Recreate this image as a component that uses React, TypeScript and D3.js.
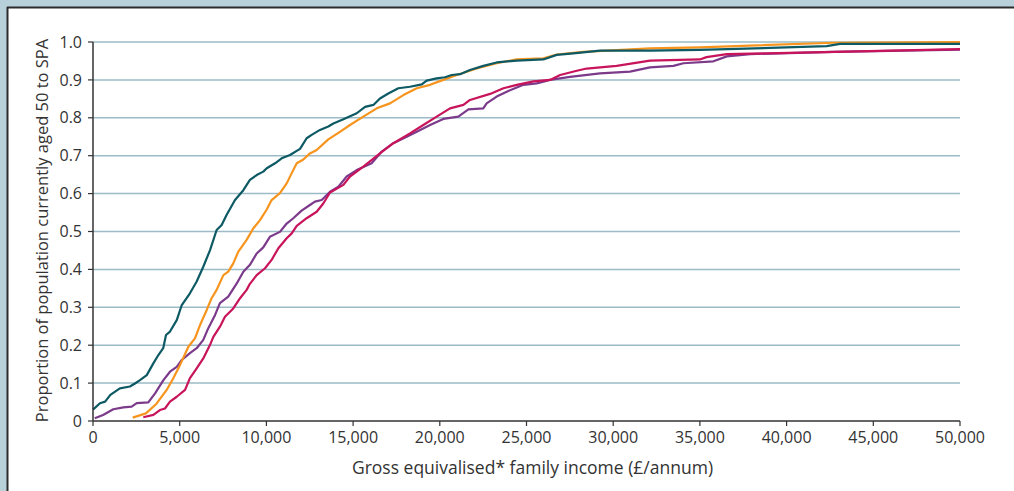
import React from "react";
import * as d3 from "d3";

// x: gross equivalised family income (£/annum), y: cumulative proportion
const xTicks = [0, 5000, 10000, 15000, 20000, 25000, 30000, 35000, 40000, 45000, 50000];
const yTicks = [0, 0.1, 0.2, 0.3, 0.4, 0.5, 0.6, 0.7, 0.8, 0.9, 1.0];

const tealSeries: [number, number][] = [
  [0, 0.030], [400, 0.047], [700, 0.051], [1000, 0.069], [1550, 0.086], [2130, 0.091],
  [2420, 0.099], [2710, 0.108], [3100, 0.121], [3480, 0.152], [3770, 0.174], [4050, 0.192],
  [4210, 0.227], [4440, 0.236], [4830, 0.266], [5120, 0.306], [5590, 0.337], [5980, 0.368],
  [6360, 0.407], [6750, 0.451], [7130, 0.504], [7420, 0.517], [7710, 0.544], [8190, 0.583],
  [8670, 0.609], [9050, 0.636], [9440, 0.649], [9820, 0.658], [10020, 0.667], [10500, 0.680],
  [10880, 0.693], [11360, 0.702], [11940, 0.718], [12320, 0.746], [12610, 0.755], [13090, 0.768],
  [13570, 0.777], [13860, 0.785], [14440, 0.796], [15210, 0.812], [15690, 0.829], [16170, 0.834],
  [16550, 0.851], [17030, 0.864], [17610, 0.878], [18280, 0.882], [18960, 0.888], [19240, 0.898],
  [19820, 0.904], [20300, 0.907], [20690, 0.913], [21170, 0.915], [21740, 0.926], [22510, 0.937],
  [23280, 0.946], [24440, 0.951], [25970, 0.954], [26740, 0.966], [27700, 0.970], [29240, 0.977],
  [32120, 0.977], [35000, 0.979], [42310, 0.989], [43080, 0.995], [50000, 0.995],
];

const orangeSeries: [number, number][] = [
  [2290, 0.009], [3050, 0.020], [3650, 0.045], [4250, 0.082], [4630, 0.113], [5020, 0.148],
  [5500, 0.196], [5880, 0.218], [6170, 0.253], [6560, 0.293], [6840, 0.324], [7130, 0.346],
  [7520, 0.385], [7800, 0.394], [8090, 0.416], [8380, 0.447], [8860, 0.478], [9240, 0.508],
  [9630, 0.530], [10020, 0.558], [10300, 0.583], [10780, 0.601], [11170, 0.627], [11460, 0.654],
  [11750, 0.680], [12130, 0.690], [12510, 0.706], [12900, 0.715], [13570, 0.743], [14240, 0.763],
  [14820, 0.781], [15590, 0.803], [16360, 0.825], [17130, 0.838], [17900, 0.860], [18670, 0.878],
  [19440, 0.887], [20200, 0.900], [20980, 0.913], [22130, 0.930], [23280, 0.944], [24440, 0.954],
  [25970, 0.957], [26740, 0.967], [28280, 0.974], [32120, 0.983], [35000, 0.986], [42700, 0.998],
  [50000, 1.0],
];

const purpleSeries: [number, number][] = [
  [100, 0.007], [580, 0.016], [1170, 0.031], [1750, 0.036], [2230, 0.038], [2520, 0.047],
  [3190, 0.049], [3580, 0.073], [4060, 0.108], [4440, 0.130], [4830, 0.143], [5120, 0.161],
  [5590, 0.179], [5980, 0.192], [6360, 0.214], [6650, 0.245], [7040, 0.280], [7320, 0.311],
  [7800, 0.328], [8290, 0.363], [8670, 0.394], [9050, 0.412], [9440, 0.442], [9820, 0.458],
  [10200, 0.486], [10780, 0.499], [11170, 0.521], [11550, 0.535], [12030, 0.555], [12510, 0.570],
  [12800, 0.579], [13190, 0.583], [13670, 0.605], [14150, 0.618], [14630, 0.645], [15210, 0.662],
  [16070, 0.680], [16650, 0.711], [17320, 0.733], [18090, 0.750], [18670, 0.763], [19440, 0.781],
  [20200, 0.797], [21070, 0.803], [21650, 0.822], [22510, 0.825], [22700, 0.838], [23280, 0.856],
  [23860, 0.869], [24820, 0.887], [25590, 0.891], [26360, 0.900], [27510, 0.908], [29240, 0.917],
  [30970, 0.922], [32120, 0.933], [33470, 0.937], [34050, 0.944], [35780, 0.949], [36550, 0.962],
  [37900, 0.968], [42690, 0.974], [50000, 0.980],
];

const crimsonSeries: [number, number][] = [
  [2900, 0.010], [3480, 0.016], [3860, 0.029], [4150, 0.033], [4440, 0.051], [4830, 0.064],
  [5310, 0.082], [5590, 0.113], [5980, 0.139], [6360, 0.165], [6750, 0.201], [6940, 0.222],
  [7320, 0.249], [7610, 0.275], [8090, 0.297], [8480, 0.324], [8860, 0.346], [9050, 0.362],
  [9440, 0.385], [9920, 0.403], [10300, 0.425], [10690, 0.456], [11170, 0.482], [11460, 0.495],
  [11750, 0.515], [12320, 0.535], [12900, 0.552], [13280, 0.574], [13670, 0.603], [14440, 0.623],
  [14820, 0.645], [15590, 0.671], [16550, 0.706], [17320, 0.733], [18280, 0.759], [19050, 0.781],
  [19820, 0.803], [20590, 0.825], [21360, 0.834], [21740, 0.847], [22900, 0.863], [23670, 0.878],
  [24440, 0.887], [25400, 0.896], [26360, 0.900], [26940, 0.913], [27900, 0.924], [28470, 0.930],
  [30200, 0.937], [32120, 0.951], [35000, 0.954], [35380, 0.960], [36550, 0.968], [38860, 0.970],
  [50000, 0.981],
];

const seriesList = [
  { name: "purple", data: purpleSeries, color: "#7b3a8a" },
  { name: "crimson", data: crimsonSeries, color: "#c8145a" },
  { name: "orange", data: orangeSeries, color: "#f7941d" },
  { name: "teal", data: tealSeries, color: "#0d5a64" },
];

const yTitle = "Proportion of population currently aged 50 to SPA";
const xTitle = "Gross equivalised* family income (£/annum)";

const W = 1014;
const H = 491;
const margin = { left: 93, right: 1014 - 960, top: 42, bottom: 491 - 421 };

export default function App() {
  const x = d3.scaleLinear().domain([0, 50000]).range([margin.left, W - margin.right]);
  const y = d3.scaleLinear().domain([0, 1]).range([H - margin.bottom, margin.top]);
  const line = d3
    .line<[number, number]>()
    .x((d) => x(d[0]))
    .y((d) => y(d[1]))
    .curve(d3.curveLinear);
  const fmtX = d3.format(",");
  const fmtY = (v: number) => (v === 0 ? "0" : d3.format(".1f")(v));
  const font = "'Open Sans', 'Noto Sans', sans-serif";
  const x0 = x(0);
  const y0 = y(0);

  return (
    <svg
      width={W}
      height={H}
      style={{ position: "absolute", left: 0, top: 0, display: "block" }}
      fontFamily={font}
    >
      <rect x={0} y={0} width={W} height={H} fill="#b8d0da" />
      <rect x={7} y={7} width={W} height={H} fill="#ffffff" />
      <line x1={7} y1={7.5} x2={W} y2={7.5} stroke="#2b2b2b" strokeWidth={2} />
      <line x1={7.5} y1={7} x2={7.5} y2={H} stroke="#2b2b2b" strokeWidth={2} />

      {/* gridlines */}
      {yTicks.filter((t) => t > 0).map((t) => (
        <line
          key={"g" + t}
          x1={x0}
          x2={x(50000)}
          y1={y(t)}
          y2={y(t)}
          stroke="#9bbcc7"
          strokeWidth={1.5}
        />
      ))}

      {/* series */}
      {seriesList.map((s) => (
        <path
          key={s.name}
          d={line(s.data) || ""}
          fill="none"
          stroke={s.color}
          strokeWidth={2.2}
          strokeLinejoin="round"
        />
      ))}

      {/* axes */}
      <line x1={x0} x2={x(50000)} y1={y0} y2={y0} stroke="#333" strokeWidth={1.5} />
      <line x1={x0} x2={x0} y1={y(1)} y2={y0} stroke="#333" strokeWidth={1.5} />
      {yTicks.map((t) => (
        <g key={"yt" + t}>
          <line x1={x0 - 5} x2={x0} y1={y(t)} y2={y(t)} stroke="#333" strokeWidth={1.2} />
          <text
            x={x0 - 11}
            y={y(t)}
            dy="0.35em"
            textAnchor="end"
            fontSize={16}
            fill="#333"
          >
            {fmtY(t)}
          </text>
        </g>
      ))}
      {xTicks.map((t) => (
        <g key={"xt" + t}>
          <line x1={x(t)} x2={x(t)} y1={y0} y2={y0 + 5} stroke="#333" strokeWidth={1.2} />
          <text x={x(t)} y={y0 + 22} textAnchor="middle" fontSize={16} fill="#333">
            {fmtX(t)}
          </text>
        </g>
      ))}

      <text
        x={(x0 + x(50000)) / 2 + 6}
        y={474}
        textAnchor="middle"
        fontSize={17.5}
        fill="#333"
      >
        {xTitle}
      </text>
      <text
        transform={`translate(48, ${(y(1) + y0) / 2 - 1}) rotate(-90)`}
        textAnchor="middle"
        fontSize={16.5}
        fill="#333"
      >
        {yTitle}
      </text>
    </svg>
  );
}
